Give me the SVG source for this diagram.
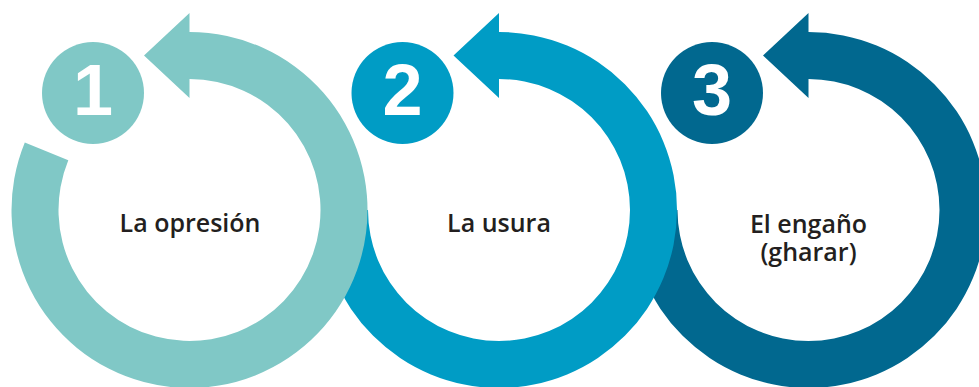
<svg xmlns="http://www.w3.org/2000/svg" width="979" height="387" viewBox="0 0 979 387">
<style>
.num{font-family:"Liberation Sans",Arial,sans-serif;font-weight:bold;font-size:72px;fill:#ffffff;text-anchor:middle}
.lbl{font-family:"Open Sans","Noto Sans",sans-serif;font-weight:600;font-size:25px;fill:#231F20;text-anchor:middle}
.c1{fill:#80C8C6}
.c2{fill:#009CC5}
.c3{fill:#01688F}
</style>
<rect width="979" height="387" fill="#ffffff"/>
<g id="step3">
<path class="c3" d="M808.5,32 A178,178 0 1 1 630.5,210 L677.5,210 A131,131 0 1 0 808.5,79 L808.5,98 L763,55.5 L808.5,13 Z"/>
<circle class="c3" cx="712" cy="93" r="51"/>
<text class="num" x="712" y="115">3</text>
<text class="lbl" x="808.5" y="233">El engaño</text>
<text class="lbl" x="808.5" y="261">(gharar)</text>
</g>
<g id="step2">
<path class="c2" d="M499,32 A178,178 0 1 1 321,210 L368,210 A131,131 0 1 0 499,79 L499,98 L453.5,55.5 L499,13 Z"/>
<circle class="c2" cx="402.5" cy="93" r="51"/>
<text class="num" x="402.5" y="115">2</text>
<text class="lbl" x="499" y="232">La usura</text>
</g>
<g id="step1">
<path class="c1" d="M189.5,32 A178,178 0 1 1 24.8,142.5 L68.3,160.3 A131,131 0 1 0 189.5,79 L189.5,98 L144,55.5 L189.5,13 Z"/>
<circle class="c1" cx="93" cy="93" r="51"/>
<text class="num" x="93" y="115">1</text>
<text class="lbl" x="190" y="232">La opresión</text>
</g>
</svg>
